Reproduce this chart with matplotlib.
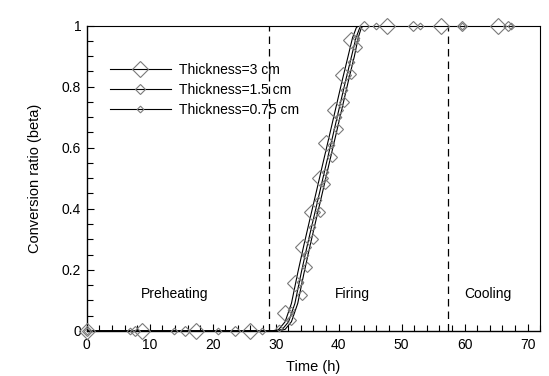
import matplotlib
matplotlib.use("Agg")
import matplotlib.pyplot as plt
from matplotlib.legend_handler import HandlerTuple
from matplotlib.ticker import MultipleLocator

plt.rcParams['font.family'] = ['Liberation Sans', 'DejaVu Sans']

# curves (time in h, conversion ratio)
beta_curve = [0, 0, 0.005, 0.03, 0.09, 0.19, 0.283, 0.372, 0.46, 0.549, 0.637,
              0.726, 0.815, 0.90, 0.96, 0.993, 1.0, 1.0]
t_curve_3 = [0, 29.5, 30.5, 31.5, 32.5, 33.5, 34.5, 35.5, 36.5, 37.5, 38.5,
             39.5, 40.5, 41.5, 42.2, 42.8, 43.2, 67.4]
t_curve_15 = [0, 30.0, 31.05, 32.05, 33.05, 34.05, 35.05, 36.05, 37.05, 38.05, 39.05,
              40.05, 41.05, 42.05, 42.75, 43.35, 43.75, 67.4]
t_curve_075 = [0, 30.5, 31.5, 32.5, 33.5, 34.5, 35.5, 36.5, 37.5, 38.5, 39.5,
               40.5, 41.5, 42.5, 43.1, 43.6, 44.0, 67.4]

# symbols
t_pts_3 = [0, 8.8, 17.4, 25.9, 31.4, 33.0, 34.3, 35.8, 37.0, 38.0, 39.4, 40.7, 42.0,
           47.7, 56.2, 65.3]
b_pts_3 = [0, 0, 0, 0, 0.058, 0.157, 0.276, 0.39, 0.50, 0.614, 0.723, 0.838, 0.953,
           1, 1, 1]
t_pts_15 = [0, 7.6, 15.6, 23.5, 32.5, 34.1, 34.9, 35.9, 37.0, 37.9, 38.9, 39.9, 40.9,
            41.9, 42.9, 44.1, 51.8, 59.6, 66.9]
b_pts_15 = [0, 0, 0, 0, 0.036, 0.118, 0.21, 0.30, 0.39, 0.48, 0.57, 0.66, 0.75,
            0.84, 0.93, 1, 1, 1, 1]
t_pts_075 = [0, 6.8, 13.8, 20.8, 27.9, 30.6, 32.4, 33.9, 34.7, 35.7, 36.75, 37.8, 38.8,
             39.85, 40.9, 41.9, 42.8, 45.9, 52.9, 59.6, 67.4]
b_pts_075 = [0, 0, 0, 0, 0, 0.01, 0.07, 0.16, 0.25, 0.34, 0.43, 0.52, 0.61,
             0.70, 0.79, 0.88, 0.96, 1, 1, 1, 1]

labels = ['Thickness=3 cm', 'Thickness=1.5 cm', 'Thickness=0.75 cm']
stage_x = [29.0, 57.4]
stages = [(14.0, 'Preheating'), (42.1, 'Firing'), (63.7, 'Cooling')]

fig = plt.figure(figsize=(5.49, 3.76), dpi=100)
ax = fig.add_axes([0.158, 0.120, 0.826, 0.812])

series = [(t_curve_3, t_pts_3, b_pts_3, 8.2),
          (t_curve_15, t_pts_15, b_pts_15, 5.0),
          (t_curve_075, t_pts_075, b_pts_075, 3.4)]
handles = []
for (tc, tp, bp, ms) in series:
    ln, = ax.plot(tc, beta_curve, color='black', lw=0.8, zorder=3)
    mk, = ax.plot(tp, bp, ls='none', marker='D', ms=ms, mfc='none',
                  mec='#7a7a7a', mew=0.8, zorder=4, clip_on=False)
    handles.append((ln, mk))

for x in stage_x:
    ax.plot([x, x], [0, 1], color='black', lw=0.9, ls=(0, (6, 4)), zorder=2)

for x, s in stages:
    ax.text(x, 0.12, s, ha='center', va='center', fontsize=10)

ax.set_xlim(0, 72)
ax.set_ylim(0, 1)
ax.xaxis.set_major_locator(MultipleLocator(10))
ax.xaxis.set_minor_locator(MultipleLocator(2))
ax.yaxis.set_major_locator(MultipleLocator(0.2))
ax.yaxis.set_minor_locator(MultipleLocator(0.05))
ax.set_yticks([0, 0.2, 0.4, 0.6, 0.8, 1.0])
ax.set_yticklabels(['0', '0.2', '0.4', '0.6', '0.8', '1'])
ax.tick_params(which='both', direction='in', labelsize=10)
ax.tick_params(axis='x', pad=5)
ax.tick_params(axis='y', pad=4)
ax.tick_params(which='major', length=5, width=0.8)
ax.tick_params(which='minor', length=4, width=0.8)
for sp in ['left', 'bottom']:
    ax.spines[sp].set_linewidth(1.0)
for sp in ['top', 'right']:
    ax.spines[sp].set_linewidth(0.8)

ax.set_xlabel('Time (h)', fontsize=10.5, labelpad=6)
ax.set_ylabel('Conversion ratio (beta)', fontsize=10.5, labelpad=14)

ax.legend(handles, labels, handler_map={tuple: HandlerTuple(ndivide=1, pad=0)},
          loc='upper left', bbox_to_anchor=(0.038, 0.895), frameon=False,
          fontsize=10, handlelength=4.4, handletextpad=0.6, labelspacing=0.43,
          borderaxespad=0)

fig.savefig('out.png', dpi=100)
